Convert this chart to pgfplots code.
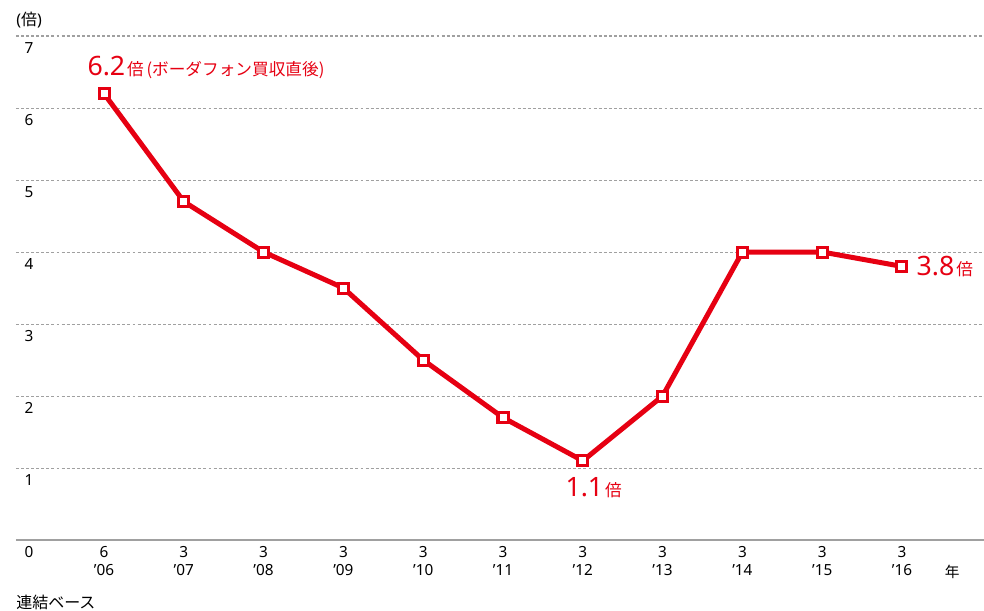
\documentclass[border=0pt]{standalone}
\usepackage{fontspec}
\setmainfont{Noto Sans}
\newfontfamily\jp{Noto Sans CJK JP}
\usepackage{pgfplots}
\pgfplotsset{compat=1.18}
\definecolor{sbred}{HTML}{E60012}
\definecolor{gridgray}{HTML}{A0A0A0}
\begin{document}
\begin{tikzpicture}
\path[use as bounding box] (-12pt,-52.5pt) rectangle (726pt,405pt);
\begin{axis}[
  at={(0,0)}, anchor=south west,
  scale only axis, width=726pt, height=378pt,
  xmin=-1.103, xmax=11.028, ymin=0, ymax=7,
  axis line style={draw=none},
  axis x line*=bottom, axis y line*=left,
  clip=false,
  xtick={0,1,2,3,4,5,6,7,8,9,10},
  xticklabels={6\\’06,3\\’07,3\\’08,3\\’09,3\\’10,3\\’11,3\\’12,3\\’13,3\\’14,3\\’15,3\\’16},
  xticklabel style={align=center, font=\fontsize{11.5}{13.5}\selectfont, yshift=-1pt},
  ytick={0,1,2,3,4,5,6,7},
  yticklabel style={anchor=north west, font=\fontsize{11.5}{13.5}\selectfont, xshift=3pt, yshift=-1.5pt},
  /pgf/number format/assume math mode=true,
  major tick length=0pt,
  ymajorgrids,
  major grid style={gridgray, line width=0.75pt, dash pattern=on 2.2pt off 1.6pt},
]
\draw[gridgray, line width=1.5pt] (axis cs:-1.103,0) -- (axis cs:11.028,0);
\addplot[sbred, line width=3.75pt, mark=square*, mark size=3.75pt,
  mark options={fill=white, draw=sbred, line width=2.25pt, solid}]
  coordinates {(0,6.2) (1,4.7) (2,4.0) (3,3.5) (4,2.5) (5,1.7) (6,1.1) (7,2.0) (8,4.0) (9,4.0) (10,3.8)};
\node[anchor=base west, inner sep=0pt, text=sbred] at (axis cs:-0.21,6.445)
  {\fontsize{20}{24}\selectfont 6.2\kern1.5pt{\fontsize{12.5}{15}\selectfont\jp 倍\kern2pt(ボーダフォン買収直後)}};
\node[anchor=base west, inner sep=0pt, text=sbred] at (axis cs:5.78,0.6)
  {\fontsize{20}{24}\selectfont 1.1\kern1.5pt{\fontsize{12.5}{15}\selectfont\jp 倍}};
\node[anchor=base west, inner sep=0pt, text=sbred] at (axis cs:10.18,3.68)
  {\fontsize{20}{24}\selectfont 3.8\kern1.5pt{\fontsize{12.5}{15}\selectfont\jp 倍}};
\node[anchor=west, inner sep=0pt] at (axis cs:-1.103,7.22)
  {\fontsize{12}{14}\selectfont ({\jp 倍})};
\node[anchor=center, inner sep=0pt] at (axis cs:10.63,-0.44)
  {\fontsize{11}{13}\selectfont\jp 年};
\node[anchor=west, inner sep=0pt] at (axis cs:-1.103,-0.87)
  {\fontsize{12}{14}\selectfont\jp 連結ベース};
\end{axis}
\end{tikzpicture}
\end{document}
